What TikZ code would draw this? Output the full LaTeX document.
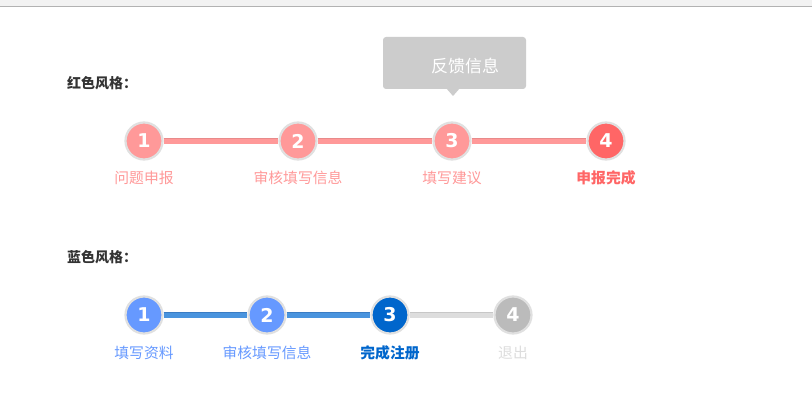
\documentclass[tikz,border=0pt]{standalone}
\usepackage{fontspec}
\usepackage{tikz}
\usetikzlibrary{positioning}
\newfontfamily\cjk{Noto Sans CJK SC}
\newfontfamily\numfont{DejaVu Sans}[BoldFont={DejaVu Sans Bold}]
\definecolor{redlt}{HTML}{FF9999}
\definecolor{reddk}{HTML}{FF6666}
\definecolor{redline}{HTML}{E88A8A}
\definecolor{bluelt}{HTML}{6699FF}
\definecolor{bluedk}{HTML}{0066CC}
\definecolor{blueline}{HTML}{4A94DE}
\definecolor{bluetop}{HTML}{3A7CC4}
\definecolor{greydot}{HTML}{BBBBBB}
\definecolor{greyline}{HTML}{DDDDDD}
\definecolor{tipgrey}{HTML}{CCCCCC}
\definecolor{titlecol}{HTML}{333333}
\tikzset{
  stepdot/.style={circle, minimum size=37pt, inner sep=0pt, draw=black!12, line width=2.2pt,
    text=white, font=\numfont\bfseries\fontsize{19}{19}\selectfont},
  steptext/.style={font=\cjk\fontsize{14.8}{16}\selectfont, inner sep=0pt},
  title/.style={font=\cjk\bfseries\fontsize{14}{15}\selectfont, text=titlecol, anchor=west, inner sep=0pt}
}
\begin{document}
\begin{tikzpicture}[x=1pt, y=-1pt]
\useasboundingbox (0,0) rectangle (812,404);
\fill[white] (0,0) rectangle (812,404);
% browser bar on top
\fill[black!5] (0,0) rectangle (812,6);
\draw[black!30, line width=1.5pt] (0,6.5) -- (812,6.5);
%
% Red style
\node[title] (redtitle) at (67,83) {红色风格：};
\node[stepdot, fill=redlt] (r1) at (144,141) {1};
\node[stepdot, fill=redlt] (r2) at (298,141) {2};
\node[stepdot, fill=redlt] (r3) at (452,141) {3};
\node[stepdot, fill=reddk] (r4) at (606,141) {4};
\foreach \a/\b in {r1/r2, r2/r3, r3/r4}{
  \draw[redlt, line width=6pt] (\a) -- (\b); % bar
  \draw[redline, line width=1pt] ([yshift=2.5pt]\a.east) -- ([yshift=2.5pt]\b.west); % top edge
}
\node[steptext, text=redlt] (rt1) at (144,178) {问题申报};
\node[steptext, text=redlt] (rt2) at (298,178) {审核填写信息};
\node[steptext, text=redlt] (rt3) at (452,178) {填写建议};
\node[steptext, text=reddk, font=\cjk\bfseries\fontsize{14.8}{16}\selectfont] (rt4) at (606,178) {申报完成};
%
% Tooltip over step 3
\fill[tipgrey, rounded corners=3pt] (383,37) rectangle (526,89);
\fill[tipgrey] (446,88) -- (453,96) -- (460,88) -- cycle;
\node[font=\cjk\fontsize{17}{19}\selectfont, text=white] (tip) at (465,66) {反馈信息};
%
% Blue style
\node[title] (bluetitle) at (67,257) {蓝色风格：};
\node[stepdot, fill=bluelt] (b1) at (144,315) {1};
\node[stepdot, fill=bluelt] (b2) at (267,315) {2};
\node[stepdot, fill=bluedk] (b3) at (390,315) {3};
\node[stepdot, fill=greydot] (b4) at (513,315) {4};
\foreach \a/\b in {b1/b2, b2/b3}{
  \draw[blueline, line width=6pt] (\a) -- (\b); % bar
  \draw[bluetop, line width=1pt] ([yshift=2.5pt]\a.east) -- ([yshift=2.5pt]\b.west); % top edge
}
\draw[greyline, line width=6pt] (b3) -- (b4);
\draw[black!22, line width=1pt] ([yshift=2.5pt]b3.east) -- ([yshift=2.5pt]b4.west);
\node[steptext, text=bluelt] (bt1) at (144,353) {填写资料};
\node[steptext, text=bluelt] (bt2) at (267,353) {审核填写信息};
\node[steptext, text=bluedk, font=\cjk\bfseries\fontsize{14.8}{16}\selectfont] (bt3) at (390,353) {完成注册};
\node[steptext, text=greyline] (bt4) at (513,353) {退出};
\end{tikzpicture}
\end{document}
